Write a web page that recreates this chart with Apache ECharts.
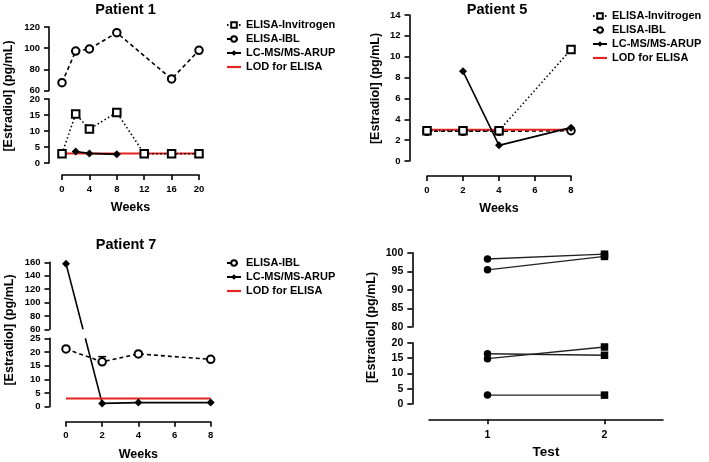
<!DOCTYPE html>
<html><head><meta charset="utf-8">
<script src="https://cdn.jsdelivr.net/npm/echarts@6/dist/echarts.min.js"></script>
<style>html,body{margin:0;padding:0;background:#fff}#c{width:709px;height:462px}</style>
</head><body><div id="c"></div>
<script>
// ---------- Patient 1 ----------
const p1InvWeeks = [0, 2, 4, 8, 12, 16, 20];
const p1Invitrogen = [2.9, 15.3, 10.6, 15.8, 2.9, 2.9, 2.9];
const p1IBLWeeks = [0, 2, 4, 8, 16, 20];
const p1IBL = [67.4, 97.3, 99.2, 114.6, 70.9, 98.0];
const p1ArupWeeks = [2, 4, 8];
const p1Arup = [3.6, 3.0, 2.7];
const p1XTicks = [0, 4, 8, 12, 16, 20];
const p1UpperTicks = [60, 80, 100, 120];
const p1LowerTicks = [0, 5, 10, 15, 20];

// ---------- Patient 5 ----------
const p5Weeks = [0, 2, 4, 8];
const p5Invitrogen = [2.9, 2.9, 2.9, 10.7];
const p5IBL = [2.85, 2.85, 2.85, 2.9];
const p5ArupWeeks = [2, 4, 8];
const p5Arup = [8.6, 1.5, 3.2];
const p5XTicks = [0, 2, 4, 6, 8];
const p5YTicks = [0, 2, 4, 6, 8, 10, 12, 14];

// ---------- Patient 7 ----------
const p7Weeks = [0, 2, 4, 8];
const p7IBL = [21.1, 16.4, 19.3, 17.3];
const p7IBLErrUpper = [null, 18.3, null, null];
const p7Arup = [158, 1.2, 1.5, 1.5];
const p7XTicks = [0, 2, 4, 6, 8];
const p7UpperTicks = [60, 80, 100, 120, 140, 160];
const p7LowerTicks = [0, 5, 10, 15, 20, 25];

// ---------- LOD ----------
const lodValue = 3;

// ---------- Test panel ----------
const testCategories = [1, 2];
const test1 = [98.3, 95.4, 16.4, 14.8, 2.9];
const test2 = [99.6, 99.0, 15.9, 18.6, 2.9];
const testUpperTicks = [80, 85, 90, 95, 100];
const testLowerTicks = [0, 5, 10, 15, 20];

const FONT = '"Liberation Sans", Arial, Helvetica, sans-serif';
const RED = '#e3251f';

function rng(t) { return { min: t[0], max: t[t.length - 1], interval: t[1] - t[0] }; }
function zip(xs, ys) { return xs.map((x, i) => [x, ys[i]]); }

function axisLine() { return { show: true, onZero: false, lineStyle: { color: '#000', width: 1.6 } }; }
function axisTick(extra) { return Object.assign({ show: true, length: 5, lineStyle: { color: '#000', width: 1.6 } }, extra || {}); }
function axisLabel(extra) { return Object.assign({ show: true, color: '#000', fontWeight: 'bold', fontSize: 9.5, fontFamily: FONT }, extra || {}); }

function yAx(grid, ticks, offset, fs) {
  const r = rng(ticks);
  return {
    type: 'value', gridIndex: grid, min: r.min, max: r.max, interval: r.interval, offset: offset,
    axisLine: axisLine(), axisTick: axisTick(), splitLine: { show: false },
    axisLabel: axisLabel({ margin: 9, fontSize: fs || 9.5 })
  };
}
function xAx(grid, ticks, offset, show, name) {
  const r = rng(ticks);
  return {
    type: 'value', gridIndex: grid, min: r.min, max: r.max, interval: r.interval, offset: offset,
    show: show, name: name || '', nameLocation: 'middle', nameGap: 26,
    nameTextStyle: { color: '#000', fontWeight: 'bold', fontSize: 12.5, fontFamily: FONT },
    axisLine: axisLine(), axisTick: axisTick(), splitLine: { show: false },
    axisLabel: axisLabel({ margin: 9 })
  };
}

const grids = [
  { left: 62, top: 27, width: 137, height: 63.5 },     // 0 P1 upper
  { left: 62, top: 99, width: 137, height: 64 },       // 1 P1 lower
  { left: 427, top: 15, width: 144, height: 146 },     // 2 P5
  { left: 66, top: 262.3, width: 144.7, height: 67 },  // 3 P7 upper
  { left: 66, top: 338.3, width: 144.7, height: 68.4 },// 4 P7 lower
  { left: 429, top: 252.7, width: 234, height: 74.3 }, // 5 Test upper
  { left: 429, top: 342.7, width: 234, height: 61.3 }  // 6 Test lower
];

const xAxes = [
  xAx(0, p1XTicks, 0, false),
  xAx(1, p1XTicks, 12, true, 'Weeks'),
  xAx(2, p5XTicks, 15, true, 'Weeks'),
  xAx(3, p7XTicks, 0, false),
  xAx(4, p7XTicks, 15, true, 'Weeks'),
  { type: 'value', gridIndex: 5, min: 0.5, max: 2.5, show: false },
  {
    type: 'value', gridIndex: 6, min: 0.5, max: 2.5, offset: 15.3,
    name: 'Test', nameLocation: 'middle', nameGap: 26,
    nameTextStyle: { color: '#000', fontWeight: 'bold', fontSize: 13.5, fontFamily: FONT },
    axisLine: axisLine(), splitLine: { show: false },
    axisTick: axisTick({ customValues: testCategories }),
    axisLabel: axisLabel({ fontSize: 10.5, margin: 10, customValues: testCategories })
  }
];
const yAxes = [
  yAx(0, p1UpperTicks, 13),
  yAx(1, p1LowerTicks, 13),
  yAx(2, p5YTicks, 17.5),
  yAx(3, p7UpperTicks, 16.5),
  yAx(4, p7LowerTicks, 16.5),
  yAx(5, testUpperTicks, 16.7, 10.5),
  yAx(6, testLowerTicks, 16.7, 10.5)
];

const S = {
  ibl: { symbol: 'emptyCircle', symbolSize: 7.5, itemStyle: { color: '#000', borderWidth: 1.6 },
         lineStyle: { color: '#000', width: 1.6, type: [4, 3] } },
  inv: { symbol: 'emptyRect', symbolSize: 7.5, itemStyle: { color: '#000', borderWidth: 1.6 },
         lineStyle: { color: '#000', width: 1.6, type: [1.5, 2.5] } },
  arup: { symbol: 'diamond', symbolSize: 8, itemStyle: { color: '#000' },
          lineStyle: { color: '#000', width: 1.6, type: 'solid' } },
  lod: { symbol: 'none', itemStyle: { color: RED }, lineStyle: { color: RED, width: 2 } }
};
function line(name, grid, data, st) {
  return Object.assign({ type: 'line', name: name, xAxisIndex: grid, yAxisIndex: grid, data: data,
    animation: false, showSymbol: true, clip: true }, st);
}

const series = [];
// Patient 1
series.push(line('LOD for ELISA', 1, [[p1XTicks[0], lodValue], [p1XTicks[p1XTicks.length - 1], lodValue]], S.lod));
series.push(line('ELISA-Invitrogen', 1, zip(p1InvWeeks, p1Invitrogen), S.inv));
series.push(line('ELISA-IBL', 0, zip(p1IBLWeeks, p1IBL), S.ibl));
series.push(line('LC-MS/MS-ARUP', 1, zip(p1ArupWeeks, p1Arup), S.arup));
// Patient 5
series.push(line('ELISA-IBL', 2, zip(p5Weeks, p5IBL), S.ibl));
series.push(line('LOD for ELISA', 2, [[p5XTicks[0], lodValue], [p5XTicks[p5XTicks.length - 1], lodValue]], S.lod));
series.push(line('ELISA-Invitrogen', 2, zip(p5Weeks, p5Invitrogen), S.inv));
series.push(line('LC-MS/MS-ARUP', 2, zip(p5ArupWeeks, p5Arup), S.arup));
// Patient 7
const p7UpMin = p7UpperTicks[0], p7LowMax = p7LowerTicks[p7LowerTicks.length - 1];
series.push(line('LOD for ELISA', 4, [[p7XTicks[0], lodValue], [p7XTicks[p7XTicks.length - 1], lodValue]], S.lod));
series.push(line('ELISA-IBL', 4, zip(p7Weeks, p7IBL), S.ibl));
series.push(line('LC-MS/MS-ARUP', 3, zip(p7Weeks, p7Arup).filter(d => d[1] >= p7UpMin), S.arup));
series.push(line('LC-MS/MS-ARUP', 4, zip(p7Weeks, p7Arup).filter(d => d[1] <= p7LowMax), S.arup));
series.push({
  type: 'custom', name: 'IBL error', xAxisIndex: 4, yAxisIndex: 4, animation: false,
  data: p7Weeks.map((w, i) => [w, p7IBL[i], p7IBLErrUpper[i]]).filter(d => d[2] != null),
  renderItem: function (params, api) {
    const p0 = api.coord([api.value(0), api.value(1)]);
    const p1 = api.coord([api.value(0), api.value(2)]);
    return { type: 'group', children: [
      { type: 'line', shape: { x1: p0[0], y1: p0[1] - 3.5, x2: p1[0], y2: p1[1] }, style: { stroke: '#000', lineWidth: 1.5 } },
      { type: 'line', shape: { x1: p1[0] - 4, y1: p1[1], x2: p1[0] + 4, y2: p1[1] }, style: { stroke: '#000', lineWidth: 1.5 } }
    ] };
  }
});
// Test panel
const testUpMin = testUpperTicks[0];
test1.forEach((v, i) => {
  const g = (v >= testUpMin) ? 5 : 6;
  series.push({
    type: 'line', name: 'pair' + i, xAxisIndex: g, yAxisIndex: g, animation: false,
    symbolSize: 7.5, itemStyle: { color: '#000' }, lineStyle: { color: '#222', width: 1.3 },
    data: [{ value: [testCategories[0], v], symbol: 'circle' }, { value: [testCategories[1], test2[i]], symbol: 'rect' }]
  });
});

const legendBase = {
  orient: 'vertical', itemWidth: 14, itemHeight: 7, itemGap: 0, selectedMode: false, symbolKeepAspect: true,
  textStyle: { color: '#000', fontWeight: 'bold', fontSize: 11, fontFamily: FONT, lineHeight: 14 }
};
const lodLegendItem = { name: 'LOD for ELISA', icon: 'path://M0,0H14V2.2H0Z', itemStyle: { color: RED } };
const legends = [
  Object.assign({}, legendBase, { left: 221, top: 13, data: ['ELISA-Invitrogen', 'ELISA-IBL', 'LC-MS/MS-ARUP', lodLegendItem] }),
  Object.assign({}, legendBase, { left: 587, top: 4, data: ['ELISA-Invitrogen', 'ELISA-IBL', 'LC-MS/MS-ARUP', lodLegendItem] }),
  Object.assign({}, legendBase, { left: 221, top: 251, data: ['ELISA-IBL', 'LC-MS/MS-ARUP', lodLegendItem] })
];

function txt(text, x, y, size, rot) {
  return { type: 'text', x: x, y: y, rotation: rot || 0, silent: true,
    style: { text: text, fill: '#000', fontSize: size, fontWeight: 'bold', fontFamily: FONT, align: 'center', verticalAlign: 'middle' } };
}
const yName = '[Estradiol] (pg/mL)';
const graphics = [
  txt('Patient 1', 125.5, 10, 14.5),
  txt('Patient 5', 497, 10, 14.5),
  txt('Patient 7', 126, 245, 14.5),
  txt(yName, 8.5, 96, 12.5, Math.PI / 2),
  txt(yName, 375.5, 88.5, 12.5, Math.PI / 2),
  txt(yName, 10, 330, 12.5, Math.PI / 2),
  txt(yName, 371.5, 327.5, 12.5, Math.PI / 2)
];

const chart = echarts.init(document.getElementById('c'), null, { renderer: 'canvas' });
chart.setOption({
  backgroundColor: '#fff', animation: false,
  grid: grids, xAxis: xAxes, yAxis: yAxes, series: series, legend: legends, graphic: graphics
});

// Segments of the Patient 7 LC-MS line that cross the axis break (drawn in pixel space, like the original)
(function () {
  const extra = [];
  const yBreakTop = chart.convertToPixel({ yAxisIndex: 3 }, p7UpMin);
  const yBreakBot = chart.convertToPixel({ yAxisIndex: 4 }, p7LowMax);
  for (let i = 0; i < p7Weeks.length - 1; i++) {
    const a = p7Arup[i], b = p7Arup[i + 1];
    const aUp = a >= p7UpMin, bUp = b >= p7UpMin;
    if (aUp === bUp) continue;
    const ga = aUp ? 3 : 4, gb = bUp ? 3 : 4;
    const pa = chart.convertToPixel({ xAxisIndex: ga, yAxisIndex: ga }, [p7Weeks[i], a]);
    const pb = chart.convertToPixel({ xAxisIndex: gb, yAxisIndex: gb }, [p7Weeks[i + 1], b]);
    const xAt = y => pa[0] + (pb[0] - pa[0]) * (y - pa[1]) / (pb[1] - pa[1]);
    const top = aUp ? pa : pb, bot = aUp ? pb : pa;
    extra.push({ type: 'line', silent: true, shape: { x1: top[0], y1: top[1], x2: xAt(yBreakTop), y2: yBreakTop }, style: { stroke: '#000', lineWidth: 1.6 } });
    extra.push({ type: 'line', silent: true, shape: { x1: xAt(yBreakBot), y1: yBreakBot, x2: bot[0], y2: bot[1] }, style: { stroke: '#000', lineWidth: 1.6 } });
  }
  chart.setOption({ graphic: graphics.concat(extra) });
})();
</script>
</body></html>
